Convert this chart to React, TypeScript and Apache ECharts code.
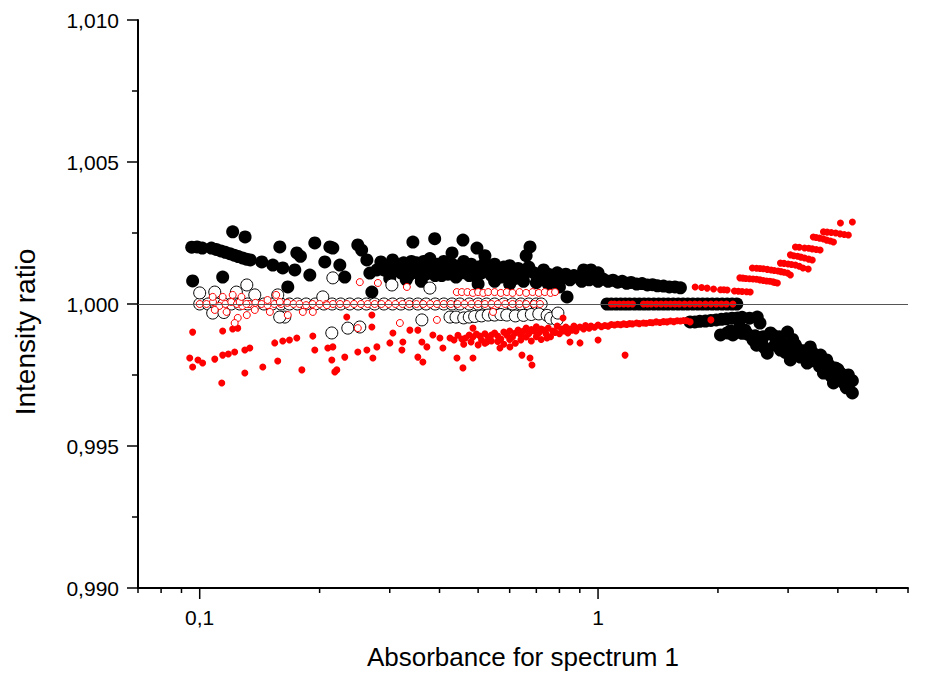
import React, { useEffect, useRef } from "react";
import * as echarts from "echarts";

// ---- axis settings ----
const xMin = 0.07;
const xMax = 6;
const yMin = 0.99;
const yMax = 1.01;
const yInterval = 0.005;
const majorXTicks = [0.1, 1];
const minorXTicks = [0.07, 0.08, 0.09, 0.2, 0.3, 0.4, 0.5, 0.6, 0.7, 0.8, 0.9, 2, 3, 4, 5, 6];
const referenceLevel = 1.0;

// ---- series data [absorbance, intensity ratio] ----
const blackFilled: [number, number][] = [
  [0.0955, 1.0020], [0.0985, 1.00201], [0.1015, 1.00197], [0.096, 1.00081],
  [0.107, 1.00197], [0.110, 1.00192], [0.113, 1.00187], [0.116, 1.00182], [0.119, 1.00177],
  [0.122, 1.00172], [0.125, 1.00167], [0.128, 1.00162], [0.131, 1.00158], [0.134, 1.00155],
  [0.121, 1.00254], [0.130, 1.00236], [0.1142, 1.00095],
  [0.1432, 1.00148], [0.1526, 1.00137], [0.1616, 1.00127], [0.1733, 1.0012],
  [0.1589, 1.00201], [0.1753, 1.0018], [0.179, 1.00168],
  [0.1945, 1.00215], [0.189, 1.00102], [0.1664, 1.0006],
  [0.2061, 1.00148], [0.2122, 1.00201], [0.2159, 1.00197], [0.2248, 1.00137], [0.2313, 1.00095],
  [0.2494, 1.00208], [0.255, 1.0019], [0.2628, 1.00155], [0.2705, 1.00042], [0.2674, 1.00109], [0.2785, 1.0012],
  [0.285, 1.00148], [0.29, 1.0012], [0.296, 1.00135], [0.30, 1.00105], [0.305, 1.00155], [0.31, 1.0014],
  [0.315, 1.0012], [0.32, 1.0011], [0.325, 1.00145], [0.33, 1.0013], [0.335, 1.001], [0.34, 1.0015],
  [0.345, 1.0012], [0.35, 1.00145], [0.355, 1.00105], [0.36, 1.0013], [0.365, 1.0015], [0.37, 1.00105],
  [0.375, 1.00135], [0.38, 1.0015], [0.385, 1.0012], [0.39, 1.001], [0.395, 1.0014], [0.40, 1.00125],
  [0.405, 1.001], [0.41, 1.0015], [0.415, 1.0013], [0.42, 1.00105], [0.43, 1.0014], [0.435, 1.0012],
  [0.44, 1.00095], [0.45, 1.00135], [0.455, 1.0011], [0.46, 1.0015], [0.47, 1.00125], [0.475, 1.001],
  [0.48, 1.0014], [0.49, 1.0012], [0.495, 1.00095], [0.50, 1.0013], [0.51, 1.0011], [0.52, 1.00145],
  [0.53, 1.00125], [0.54, 1.001], [0.55, 1.0014], [0.56, 1.0012], [0.57, 1.00095], [0.58, 1.0013],
  [0.59, 1.0011], [0.60, 1.00135], [0.61, 1.0011], [0.62, 1.0009],
  [0.3429, 1.00218], [0.389, 1.0023], [0.458, 1.00225], [0.4966, 1.00197], [0.3783, 1.0016],
  [0.6748, 1.00201], [0.66, 1.0017], [0.43, 1.0018], [0.52, 1.0017],
  [0.30, 1.0009], [0.33, 1.00085], [0.36, 1.0008], [0.5, 1.0007], [0.55, 1.0008], [0.6, 1.0007],
  [0.65, 1.0008], [0.7, 1.00075], [0.75, 1.0007], [0.8, 1.0006], [0.836, 1.00025],
  [0.63, 1.00125], [0.65, 1.001], [0.67, 1.0013], [0.69, 1.0011], [0.71, 1.0009], [0.73, 1.0012],
  [0.75, 1.00105], [0.77, 1.0009], [0.79, 1.0011], [0.81, 1.0009], [0.83, 1.00105], [0.85, 1.00085],
  [0.87, 1.001], [0.89, 1.00095], [0.92, 1.0012], [0.96, 1.0012], [0.91, 1.0008], [0.93, 1.00095],
  [0.95, 1.00085], [0.98, 1.0009], [1.0, 1.0011], [1.0, 1.0008], [1.03, 1.00088], [1.06, 1.0008],
  [1.09, 1.00084], [1.12, 1.00077], [1.15, 1.0008], [1.18, 1.00073], [1.21, 1.00076], [1.25, 1.0007],
  [1.29, 1.00072], [1.33, 1.00067], [1.37, 1.00068], [1.41, 1.00064], [1.46, 1.00063], [1.51, 1.0006],
  [1.56, 1.0006], [1.61, 1.00057],
  [1.053, 1.0], [1.08, 1.0], [1.11, 1.0], [1.14, 1.0], [1.17, 1.0], [1.2, 1.0], [1.235, 1.0], [1.27, 1.0],
  [1.305, 1.0], [1.34, 1.0], [1.38, 1.0], [1.42, 1.0], [1.46, 1.0], [1.5, 1.0], [1.545, 1.0], [1.59, 1.0],
  [1.635, 1.0], [1.68, 1.0], [1.73, 1.0], [1.78, 1.0], [1.83, 1.0], [1.88, 1.0], [1.935, 1.0], [1.99, 1.0],
  [2.05, 1.0], [2.11, 1.0], [2.17, 1.0], [2.23, 1.0],
  [1.703, 0.99937], [1.75, 0.99937], [1.8, 0.99939], [1.86, 0.9994], [1.92, 0.99942], [1.98, 0.99944],
  [2.04, 0.99946], [2.1, 0.99948], [2.17, 0.9995], [2.24, 0.99951], [2.3, 0.99953], [2.4, 0.9995], [2.51, 0.99954],
  [2.03, 0.99891], [2.11, 0.99898], [2.18, 0.99891], [2.27, 0.99919], [2.34, 0.99908], [2.45, 0.99873],
  [2.55, 0.9988], [2.55, 0.99933], [2.66, 0.99827], [2.71, 0.99898], [2.82, 0.99873], [2.87, 0.99838],
  [2.99, 0.99901], [2.99, 0.99849], [3.04, 0.99803], [3.13, 0.99856], [3.22, 0.99813], [3.35, 0.99792],
  [3.41, 0.99849], [3.51, 0.9982], [3.68, 0.99757], [3.75, 0.99803], [3.90, 0.99722], [3.94, 0.99775],
  [4.06, 0.99757], [4.18, 0.9974], [4.30, 0.99732], [4.35, 0.99687],
  [2.15, 0.99905], [2.22, 0.999], [2.3, 0.99897], [2.38, 0.99893], [2.48, 0.99888], [2.6, 0.99885],
  [2.5, 0.99855], [2.58, 0.9986], [2.62, 0.99845], [2.75, 0.9989], [2.78, 0.99855], [2.85, 0.99885],
  [2.92, 0.9986], [2.95, 0.9983], [3.08, 0.99875], [3.1, 0.9983], [3.18, 0.9984], [3.28, 0.99835],
  [3.3, 0.9981], [3.45, 0.9983], [3.45, 0.998], [3.55, 0.99805], [3.6, 0.9978], [3.62, 0.9982],
  [3.8, 0.99785], [3.85, 0.9976], [3.85, 0.99745], [4.0, 0.9977], [4.0, 0.99735], [4.12, 0.99745],
  [4.15, 0.9972], [4.25, 0.9975], [4.25, 0.99715], [4.35, 0.9973], [4.2, 0.99705],
];

const blackOpen: [number, number][] = [
  [0.1, 1.0], [0.105, 1.0], [0.11, 1.0], [0.115, 1.0], [0.12, 1.0], [0.126, 1.0], [0.132, 1.0], [0.138, 1.0],
  [0.145, 1.0], [0.152, 1.0], [0.16, 1.0], [0.168, 1.0], [0.176, 1.0], [0.185, 1.0], [0.195, 1.0], [0.205, 1.0],
  [0.215, 1.0], [0.226, 1.0], [0.238, 1.0], [0.25, 1.0], [0.262, 1.0], [0.275, 1.0], [0.29, 1.0], [0.305, 1.0],
  [0.32, 1.0], [0.336, 1.0], [0.353, 1.0], [0.37, 1.0], [0.39, 1.0], [0.41, 1.0], [0.43, 1.0], [0.45, 1.0],
  [0.475, 1.0], [0.5, 1.0], [0.525, 1.0], [0.55, 1.0], [0.58, 1.0], [0.61, 1.0], [0.64, 1.0], [0.67, 1.0],
  [0.7, 1.0], [0.72, 1.0],
  [0.1091, 1.00042], [0.1313, 1.00067], [0.1236, 1.00042], [0.1375, 1.00032], [0.157, 1.00032],
  [0.1635, 0.99954], [0.1588, 0.99954], [0.2037, 1.00025], [0.2146, 0.99898], [0.2159, 1.00092],
  [0.3037, 1.00067], [0.3783, 1.00056], [0.3612, 0.99944], [0.2523, 0.99919], [0.2354, 0.99915],
  [0.1078, 0.99968], [0.1, 1.00039], [0.115, 0.9997],
  [0.425, 0.99954], [0.44, 0.99954], [0.46, 0.99951], [0.475, 0.99954], [0.49, 0.99956], [0.51, 0.99958],
  [0.53, 0.99961], [0.55, 0.99961], [0.57, 0.99963], [0.59, 0.99961], [0.62, 0.99958], [0.65, 0.9996],
  [0.68, 0.99963], [0.71, 0.99965], [0.745, 0.9996], [0.76, 0.9995], [0.789, 0.99944], [0.793, 0.99968],
];

const redFilled: [number, number][] = [
  [0.096, 0.99901], [0.0944, 0.9981], [0.099, 0.99803], [0.1017, 0.99792], [0.096, 0.99778],
  [0.1091, 0.99806], [0.1142, 0.9982], [0.118, 0.99824], [0.1224, 0.99831],
  [0.1142, 0.99905], [0.121, 0.99912], [0.1246, 0.99915], [0.1298, 0.99838], [0.1336, 0.99845],
  [0.1136, 0.99722], [0.1298, 0.99757], [0.144, 0.99778],
  [0.1543, 0.99863], [0.1616, 0.9987], [0.168, 0.99873], [0.1753, 0.9988], [0.157, 0.99799],
  [0.1805, 0.99768], [0.1923, 0.99887], [0.1945, 0.99838], [0.2097, 0.99845], [0.2146, 0.99803], [0.2184, 0.99761],
  [0.2159, 0.99849], [0.2313, 0.99813], [0.2209, 0.99768], [0.234, 0.99954], [0.2705, 0.99961], [0.2705, 0.99919],
  [0.2494, 0.99831], [0.2628, 0.99838], [0.2721, 0.9981], [0.2785, 0.99849],
  [0.3002, 0.99863], [0.3055, 0.99898], [0.3218, 0.99838], [0.3236, 0.99866],
  [0.337, 0.99908], [0.3529, 0.99908], [0.3612, 0.99866], [0.3718, 0.99849], [0.3529, 0.99813], [0.3633, 0.99796],
  [0.3849, 0.99891], [0.4009, 0.9988], [0.4079, 0.99845],
  [0.425, 0.9988], [0.435, 0.99873], [0.445, 0.9989], [0.455, 0.99877], [0.465, 0.9988], [0.475, 0.99891],
  [0.485, 0.99884], [0.495, 0.99894], [0.505, 0.99887], [0.4424, 0.9981], [0.458, 0.99775], [0.4853, 0.9981],
  [0.4853, 0.99915],
  [0.51, 0.99873], [0.52, 0.99895], [0.53, 0.99884], [0.54, 0.9987], [0.55, 0.99898], [0.56, 0.99887],
  [0.57, 0.99877], [0.58, 0.99901], [0.59, 0.9989], [0.6, 0.99905], [0.61, 0.99884], [0.62, 0.99898],
  [0.63, 0.99908], [0.64, 0.9989], [0.65, 0.99905], [0.66, 0.99915], [0.67, 0.99895], [0.68, 0.9991],
  [0.69, 0.99905], [0.7, 0.9992], [0.71, 0.99898], [0.72, 0.99912], [0.73, 0.99908], [0.75, 0.99915],
  [0.77, 0.99905], [0.79, 0.99922], [0.81, 0.99912], [0.83, 0.99919], [0.85, 0.99912], [0.87, 0.99922],
  [0.9, 0.99919], [0.93, 0.99924], [0.96, 0.99922], [1.0, 0.99926], [1.04, 0.99924], [1.08, 0.99928],
  [1.12, 0.99929], [1.16, 0.9993], [1.2, 0.99931], [1.25, 0.99933], [1.3, 0.99933], [1.35, 0.99935],
  [1.4, 0.99937], [1.46, 0.99938], [1.52, 0.9994], [1.58, 0.99941], [1.64, 0.99942], [1.703, 0.99937], [1.92, 0.99944],
  [0.46, 0.99858], [0.48, 0.99866], [0.5, 0.99856], [0.52, 0.99862], [0.54, 0.99891], [0.56, 0.99868],
  [0.58, 0.99858], [0.6, 0.99875], [0.62, 0.99862], [0.64, 0.99873], [0.66, 0.99884], [0.68, 0.9987],
  [0.7, 0.99885], [0.72, 0.99875], [0.74, 0.99895], [0.76, 0.99885], [0.78, 0.999], [0.8, 0.99895],
  [0.82, 0.99905], [0.84, 0.99898], [0.86, 0.99908], [0.88, 0.99905], [0.92, 0.99912], [0.95, 0.99915],
  [0.98, 0.99918], [1.02, 0.9992], [1.06, 0.99922], [1.1, 0.99926], [1.14, 0.99927], [1.18, 0.99928],
  [1.22, 0.9993], [1.27, 0.99931], [1.32, 0.99932], [1.37, 0.99934], [1.43, 0.99935], [1.49, 0.99937],
  [1.55, 0.99938], [1.61, 0.9994], [1.67, 0.99941],
  [0.5261, 0.99866], [0.5672, 0.99845], [0.601, 0.99849], [0.6442, 0.9982], [0.6748, 0.9981], [0.6826, 0.99785],
  [0.7446, 0.9988], [0.8504, 0.99866], [0.9011, 0.99863], [0.8168, 0.99951], [1.169, 0.9982], [1.0, 0.99873],
  [1.08, 1.0], [1.1, 1.0], [1.13, 1.0], [1.16, 1.0], [1.19, 1.0], [1.22, 1.0],
  [1.3, 1.0], [1.33, 1.0], [1.36, 1.0], [1.4, 1.0], [1.44, 1.0], [1.48, 1.0], [1.52, 1.0], [1.56, 1.0],
  [1.6, 1.0], [1.65, 1.0], [1.7, 1.0], [1.75, 1.0], [1.8, 1.0], [1.86, 1.0], [1.92, 1.0], [1.98, 1.0],
  [2.04, 1.0], [2.1, 1.0], [2.18, 1.0],
  [1.753, 1.0006], [1.82, 1.00058], [1.879, 1.00056], [1.95, 1.00053], [2.03, 1.0005], [2.07, 1.0005],
  [2.11, 1.00049], [2.2, 1.00046], [2.25, 1.00045], [2.3, 1.00044], [2.36, 1.00043], [2.41, 1.00042],
  [2.27, 1.00092], [2.31, 1.00091], [2.35, 1.0009], [2.4, 1.00089], [2.45, 1.00088], [2.5, 1.00087],
  [2.55, 1.00085], [2.6, 1.00083], [2.65, 1.00081], [2.7, 1.0008], [2.75, 1.00078], [2.78, 1.00076], [2.82, 1.00074],
  [2.44, 1.00127], [2.5, 1.00126], [2.55, 1.00125], [2.6, 1.00124], [2.66, 1.00122], [2.72, 1.0012],
  [2.77, 1.00118], [2.83, 1.00116], [2.88, 1.00114], [2.93, 1.00112], [2.99, 1.00109], [3.04, 1.00102],
  [2.87, 1.00144], [2.93, 1.00143], [3.0, 1.00141], [3.06, 1.00139], [3.13, 1.00137], [3.2, 1.00133], [3.27, 1.00127],
  [3.04, 1.00173], [3.1, 1.0017], [3.17, 1.00168], [3.23, 1.00165], [3.3, 1.00162], [3.38, 1.00158], [3.45, 1.00155],
  [3.13, 1.00201], [3.2, 1.002], [3.3, 1.00197], [3.38, 1.00196], [3.45, 1.00194], [3.53, 1.00192], [3.61, 1.0019],
  [3.47, 1.00236], [3.53, 1.00234], [3.6, 1.00232], [3.68, 1.00229], [3.75, 1.00225], [3.83, 1.00222], [3.9, 1.00218],
  [3.68, 1.00254], [3.76, 1.00253], [3.85, 1.00252], [3.95, 1.0025], [4.05, 1.00247], [4.15, 1.00245], [4.25, 1.00243],
  [4.06, 1.00285], [4.35, 1.00289], [3.37, 1.00123],
];

const redOpen: [number, number][] = [
  [0.1, 1.0], [0.104, 1.0], [0.108, 1.00007], [0.112, 0.99993], [0.116, 1.0], [0.12, 1.00007], [0.124, 1.0],
  [0.128, 0.99993], [0.133, 1.0], [0.138, 1.00004], [0.143, 1.0], [0.148, 0.99996], [0.154, 1.0], [0.16, 1.0],
  [0.166, 1.00004], [0.172, 1.0], [0.178, 1.0], [0.185, 0.99996], [0.192, 1.0], [0.2, 1.0], [0.208, 1.0],
  [0.216, 1.0], [0.225, 1.0], [0.234, 1.0], [0.244, 1.0], [0.254, 1.0], [0.264, 1.0], [0.275, 1.0], [0.286, 1.0],
  [0.298, 1.0], [0.31, 1.0], [0.323, 1.0], [0.336, 1.0], [0.35, 1.0], [0.364, 1.0], [0.379, 1.0], [0.394, 1.0],
  [0.41, 1.0], [0.427, 1.0], [0.444, 1.0], [0.462, 1.0], [0.481, 1.0], [0.5, 1.0], [0.52, 1.0], [0.54, 1.0],
  [0.56, 1.0], [0.585, 1.0], [0.61, 1.0], [0.635, 1.0], [0.66, 1.0], [0.69, 1.0], [0.715, 1.0],
  [0.1078, 1.00025], [0.1142, 1.00025], [0.121, 1.00032], [0.126, 1.00007], [0.1246, 0.99951], [0.1313, 0.99961],
  [0.1168, 0.99972], [0.1091, 0.99979], [0.1375, 0.99979], [0.148, 1.00014], [0.1556, 1.00032], [0.1589, 1.00007],
  [0.1664, 0.99961], [0.1815, 0.99972], [0.1923, 0.99972], [0.2085, 0.99996], [0.1224, 0.99933], [0.1273, 1.00025],
  [0.15, 0.99972], [0.131, 1.0],
  [0.2523, 1.00077], [0.2801, 1.00074], [0.3312, 1.0006], [0.3181, 0.99933], [0.2494, 0.99915], [0.394, 0.99944],
  [0.545, 0.99972],
  [0.442, 1.00042], [0.455, 1.00042], [0.47, 1.00042], [0.485, 1.00039], [0.5, 1.00042], [0.515, 1.00039],
  [0.53, 1.00042], [0.55, 1.00042], [0.57, 1.00039], [0.59, 1.00042], [0.61, 1.00039], [0.635, 1.00042],
  [0.66, 1.00039], [0.685, 1.00042], [0.71, 1.00039], [0.735, 1.00042], [0.76, 1.00039], [0.78, 1.00042],
];

const FONT = '"Liberation Sans", Arial, sans-serif';

export default function App() {
  const ref = useRef<HTMLDivElement>(null);
  useEffect(() => {
    if (!ref.current) return;
    const chart = echarts.init(ref.current, null, { renderer: "svg" });
    const tickData = [
      ...majorXTicks.map((v) => [v, yMin, 1]),
      ...minorXTicks.map((v) => [v, yMin, 0]),
    ];
    const fmt = (v: number) => String(Number(v.toPrecision(6))).replace(".", ",");
    chart.setOption({
      animation: false,
      backgroundColor: "#fff",
      grid: { left: 138, right: 30, top: 20, bottom: 87, containLabel: false },
      xAxis: {
        type: "log",
        logBase: 10,
        min: xMin,
        max: xMax,
        axisLine: { show: true, lineStyle: { color: "#000", width: 2 } },
        axisTick: { show: false },
        splitLine: { show: false },
        axisLabel: {
          showMinLabel: false,
          showMaxLabel: false,
          margin: 19,
          fontSize: 21,
          fontFamily: FONT,
          color: "#000",
          formatter: fmt,
        },
      },
      yAxis: {
        type: "value",
        min: yMin,
        max: yMax,
        interval: yInterval,
        axisLine: { show: true, lineStyle: { color: "#000", width: 2 } },
        axisTick: { show: true, length: 11, lineStyle: { color: "#000", width: 1.5 } },
        minorTick: { show: true, splitNumber: 2, length: 6, lineStyle: { color: "#000", width: 1.5 } },
        splitLine: { show: false },
        axisLabel: {
          margin: 19,
          fontSize: 21,
          fontFamily: FONT,
          color: "#000",
          formatter: (v: number) => v.toFixed(3).replace(".", ","),
        },
      },
      graphic: [
        {
          type: "text",
          x: 25,
          y: 332,
          rotation: Math.PI / 2,
          style: {
            text: "Intensity ratio",
            fill: "#000",
            font: `28px ${FONT}`,
            align: "center",
            verticalAlign: "middle",
          },
        },
        {
          type: "text",
          x: 523,
          y: 657,
          style: {
            text: "Absorbance for spectrum 1",
            fill: "#000",
            font: `26px ${FONT}`,
            align: "center",
            verticalAlign: "middle",
          },
        },
      ],
      series: [
        {
          type: "scatter",
          data: blackFilled,
          symbol: "circle",
          symbolSize: 13,
          itemStyle: { color: "#000", opacity: 1 },
          silent: true,
        },
        {
          type: "scatter",
          data: blackOpen,
          symbol: "circle",
          symbolSize: 12,
          itemStyle: { color: "#fff", borderColor: "#000", borderWidth: 1, opacity: 1 },
          silent: true,
        },
        {
          type: "scatter",
          data: redFilled,
          symbol: "circle",
          symbolSize: 7,
          itemStyle: { color: "#ff0000", opacity: 1 },
          silent: true,
        },
        {
          type: "scatter",
          data: redOpen,
          symbol: "circle",
          symbolSize: 7,
          itemStyle: { color: "#fff", borderColor: "#ff0000", borderWidth: 1, opacity: 1 },
          silent: true,
          markLine: {
            silent: true,
            symbol: "none",
            label: { show: false },
            lineStyle: { color: "#555", width: 1, type: "solid" },
            data: [{ yAxis: referenceLevel }],
          },
        },
        {
          type: "custom",
          clip: false,
          silent: true,
          data: tickData,
          encode: { x: 0, y: 1 },
          renderItem: (params: any, api: any) => {
            const p = api.coord([api.value(0), api.value(1)]);
            const len = api.value(2) === 1 ? 11 : 5;
            return {
              type: "line",
              shape: { x1: p[0], y1: p[1], x2: p[0], y2: p[1] + len },
              style: { stroke: "#000", lineWidth: 1.5 },
            };
          },
        },
      ],
    });
    return () => chart.dispose();
  }, []);
  return (
    <div
      ref={ref}
      style={{ position: "fixed", left: 0, top: 0, width: 938, height: 675, background: "#fff" }}
    />
  );
}
